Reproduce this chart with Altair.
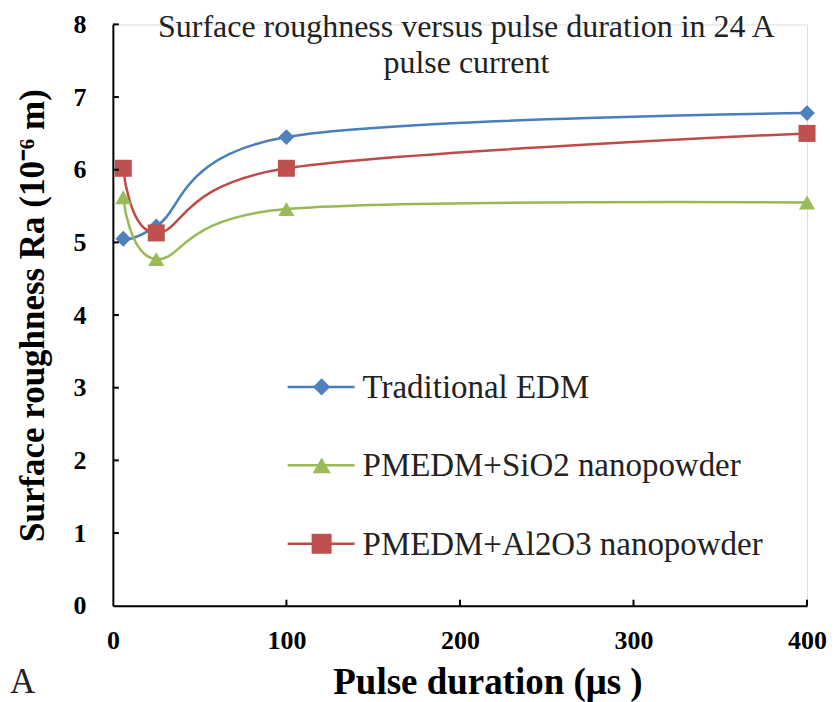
import altair as alt
import pandas as pd

series = ["Traditional EDM", "PMEDM+SiO2 nanopowder", "PMEDM+Al2O3 nanopowder"]
pulse = [6, 25, 100, 400]
trad = [5.05, 5.22, 6.45, 6.78]
sio2 = [5.62, 4.77, 5.46, 5.55]
al2o3 = [6.02, 5.13, 6.02, 6.50]
line_colors = ["#4A7EBB", "#98B954", "#BE4B48"]
marker_colors = ["#4F81BD", "#9BBB59", "#C0504D"]
marker_shapes = ["diamond", "triangle-up", "square"]
marker_sizes = [250, 260, 290]
legend_marker_sizes = [300, 330, 400]
x_ticks = [0, 100, 200, 300, 400]
y_ticks = [0, 1, 2, 3, 4, 5, 6, 7, 8]
title_lines = ["Surface roughness versus pulse duration in 24 A", "pulse current"]
panel_label = "A"

FONT = "Liberation Serif"

rows = []
for s, vals in zip(series, [trad, sio2, al2o3]):
    for p, v in zip(pulse, vals):
        rows.append({"series": s, "pulse": p, "ra": v})
df = pd.DataFrame(rows)

leg_df = pd.DataFrame({"series": series, "row": list(range(len(series)))})

xs = alt.Scale(domain=[0, 400], nice=False)
ys = alt.Scale(domain=[0, 8], nice=False)

x_enc = alt.X("pulse:Q", scale=xs, axis=alt.Axis(
    values=x_ticks, format="d", title="Pulse duration (μs )", ticks=False, tickSize=0,
    grid=False, domainColor="black", domainWidth=2, labelFont=FONT, labelFontSize=26,
    labelFontWeight="bold", labelColor="black", labelPadding=22,
    titleFont=FONT, titleFontSize=37, titleFontWeight="bold", titleColor="black",
    titleX=375, titleY=77, titleBaseline="middle", titleAlign="center", labelFlush=False))
y_enc = alt.Y("ra:Q", scale=ys, axis=alt.Axis(
    values=y_ticks, format="d", title="Surface roughness Ra (10⁻⁶ m)", ticks=False,
    tickSize=0, grid=False, domainColor="black", domainWidth=2, labelFont=FONT,
    labelFontSize=26, labelFontWeight="bold", labelColor="black", labelPadding=27,
    titleFont=FONT, titleFontSize=35, titleFontWeight="bold", titleColor="black",
    titleX=-80, titleY=291, titleBaseline="middle", titleAlign="center", titleAngle=-90,
    labelFlush=False))

line_scale = alt.Scale(domain=series, range=line_colors)

lines = alt.Chart(df).mark_line(interpolate="cardinal", strokeWidth=2.5).encode(
    x=x_enc, y=y_enc,
    color=alt.Color("series:N", scale=line_scale, legend=None),
    detail="series:N",
)

point_layers = []
for s, c, sh, sz in zip(series, marker_colors, marker_shapes, marker_sizes):
    point_layers.append(
        alt.Chart(df).transform_filter(alt.datum.series == s).mark_point(
            filled=True, shape=sh, size=sz, color=c, opacity=1
        ).encode(x=alt.X("pulse:Q", scale=xs), y=alt.Y("ra:Q", scale=ys))
    )

# legend drawn inside the plot area
leg_y = alt.Y("row:Q", scale=alt.Scale(domain=[0, 2], range=[363, 520]), axis=None)
leg_line = alt.Chart(leg_df).mark_rule(strokeWidth=2.5).encode(
    x=alt.value(175), x2=alt.value(242), y=leg_y,
    color=alt.Color("series:N", scale=line_scale, legend=None),
)
leg_pts = []
for s, c, sh, sz in zip(series, marker_colors, marker_shapes, legend_marker_sizes):
    leg_pts.append(
        alt.Chart(leg_df).transform_filter(alt.datum.series == s).mark_point(
            filled=True, shape=sh, size=sz, color=c, opacity=1
        ).encode(x=alt.value(209), y=leg_y)
    )
leg_text = alt.Chart(leg_df).mark_text(
    font=FONT, fontSize=33, color="#222", align="left", baseline="middle", dy=1
).encode(x=alt.value(250), y=leg_y, text="series:N")
legend_chart = alt.layer(leg_line, *leg_pts, leg_text)

xt = pd.DataFrame({"t": x_ticks[1:]})
x_tick_rules = alt.Chart(xt).mark_rule(color="black", strokeWidth=2).encode(
    x=alt.X("t:Q", scale=xs), y=alt.value(582), y2=alt.value(576)
)
yt = pd.DataFrame({"t": y_ticks[1:]})
y_tick_rules = alt.Chart(yt).mark_rule(color="black", strokeWidth=2).encode(
    y=alt.Y("t:Q", scale=ys), x=alt.value(0), x2=alt.value(6)
)

title_text = alt.Chart(pd.DataFrame({"t": [0]})).mark_text(
    text=title_lines, font=FONT, fontSize=32, color="#222", align="center",
    baseline="alphabetic", lineHeight=36
).encode(x=alt.value(354), y=alt.value(13))

a_text = alt.Chart(pd.DataFrame({"t": [0]})).mark_text(
    text=panel_label, font=FONT, fontSize=35, color="#222", align="left",
    baseline="alphabetic"
).encode(x=alt.value(-103), y=alt.value(669))

main = alt.layer(lines, *point_layers, x_tick_rules, y_tick_rules, title_text, a_text)

chart = alt.layer(main, legend_chart).resolve_scale(y="independent").properties(
    width=695, height=582,
    autosize=alt.AutoSizeParams(type="none"),
    padding={"left": 105, "top": 16, "right": 20, "bottom": 96},
).configure_view(stroke=None).configure(background="white")

chart.save("out.html", embed_options={"renderer": "svg", "actions": False})
